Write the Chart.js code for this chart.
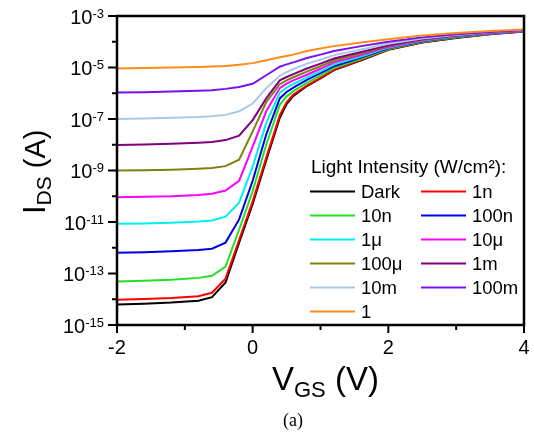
<!DOCTYPE html>
<html>
<head>
<meta charset="utf-8">
<script src="https://cdn.jsdelivr.net/npm/chart.js@4.4.0/dist/chart.umd.min.js"></script>
<style>
  html, body { margin: 0; padding: 0; background: #fff; }
  #wrap { width: 534px; height: 433px; }
</style>
</head>
<body>
<div id="wrap"><canvas id="chart" width="534" height="433"></canvas></div>
<script>
// gate voltage (V)
const vgs = [-2, -1.6, -1.2, -0.8, -0.6, -0.4, -0.2, 0, 0.2, 0.4, 0.5, 0.6, 0.8, 1.0, 1.2, 1.6, 2.0, 2.5, 3.0, 3.5, 4.0];

// log10 of I_DS (A)
const dark   = [-14.2, -14.17, -14.13, -14.06, -13.92, -13.35, -11.8, -10.3, -8.6, -6.95, -6.42, -6.1, -5.72, -5.42, -5.1, -4.72, -4.31, -4.03, -3.85, -3.71, -3.6];
const i1n    = [-14.02, -13.99, -13.95, -13.88, -13.75, -13.2, -11.7, -10.2, -8.5, -6.85, -6.35, -6.05, -5.7, -5.4, -5.08, -4.7, -4.3, -4.02, -3.84, -3.7, -3.6];
const i10n   = [-13.31, -13.28, -13.24, -13.17, -13.09, -12.73, -11.3, -9.8, -8.0, -6.45, -6.12, -5.92, -5.6, -5.32, -5.02, -4.66, -4.28, -4.0, -3.83, -3.69, -3.59];
const i100n  = [-12.19, -12.17, -12.14, -12.09, -12.04, -11.8, -10.9, -9.4, -7.6, -6.2, -5.95, -5.78, -5.48, -5.22, -4.95, -4.61, -4.25, -3.98, -3.81, -3.68, -3.59];
const i1u    = [-11.07, -11.06, -11.03, -10.98, -10.94, -10.79, -10.25, -8.85, -7.15, -5.98, -5.78, -5.64, -5.38, -5.15, -4.88, -4.57, -4.23, -3.96, -3.8, -3.67, -3.58];
const i10u   = [-10.04, -10.02, -10.0, -9.95, -9.9, -9.78, -9.4, -8.07, -6.7, -5.8, -5.63, -5.5, -5.28, -5.05, -4.8, -4.52, -4.2, -3.94, -3.78, -3.66, -3.58];
const i100u  = [-9.0, -8.99, -8.97, -8.93, -8.9, -8.83, -8.58, -7.48, -6.35, -5.65, -5.5, -5.38, -5.16, -4.95, -4.73, -4.46, -4.17, -3.92, -3.77, -3.65, -3.57];
const i1m    = [-8.01, -7.99, -7.96, -7.92, -7.89, -7.82, -7.65, -7.04, -6.2, -5.5, -5.37, -5.26, -5.04, -4.85, -4.65, -4.4, -4.14, -3.9, -3.76, -3.64, -3.57];
const i10m   = [-7.0, -6.98, -6.95, -6.92, -6.89, -6.84, -6.7, -6.4, -5.8, -5.32, -5.18, -5.06, -4.85, -4.7, -4.52, -4.3, -4.08, -3.87, -3.74, -3.63, -3.56];
const i100m  = [-5.97, -5.96, -5.93, -5.9, -5.88, -5.83, -5.76, -5.63, -5.3, -4.97, -4.88, -4.8, -4.63, -4.5, -4.36, -4.17, -4.0, -3.83, -3.71, -3.62, -3.55];
const i1     = [-5.04, -5.02, -5.0, -4.98, -4.96, -4.94, -4.89, -4.83, -4.72, -4.6, -4.55, -4.5, -4.36, -4.26, -4.17, -4.03, -3.9, -3.76, -3.66, -3.58, -3.52];

const seriesNames  = ['Dark', '1n', '10n', '100n', '1\u03bc', '10\u03bc', '100\u03bc', '1m', '10m', '100m', '1'];
const seriesData   = [dark, i1n, i10n, i100n, i1u, i10u, i100u, i1m, i10m, i100m, i1];
const seriesColors = ['#000000', '#ff0000', '#22e022', '#0000e0', '#00f0f0', '#ff00ff', '#808010', '#800080', '#a8c8e6', '#7a10f0', '#ff8c1a'];

// axis ticks
const xTicks = [-2, -1, 0, 1, 2, 3, 4];
const xLabels = [-2, 0, 2, 4];
const yExps = [-15, -14, -13, -12, -11, -10, -9, -8, -7, -6, -5, -4, -3];
const yLabelExps = [-3, -5, -7, -9, -11, -13, -15];

const FONT = '"Liberation Sans", Arial, Helvetica, sans-serif';

const datasets = seriesData.map(function (vals, i) {
    return {
        label: seriesNames[i],
        data: vals.map(function (v, k) { return { x: vgs[k], y: Math.pow(10, v) }; }),
        borderColor: seriesColors[i],
        borderWidth: 2,
        pointRadius: 0,
        showLine: true,
        tension: 0,
        order: -i
    };
});

// draws the frame, ticks, labels and the legend box
const decorations = {
    id: 'decorations',
    afterDraw: function (chart) {
        const ctx = chart.ctx;
        const a = chart.chartArea;
        const xs = chart.scales.x;
        const ys = chart.scales.y;
        ctx.save();
        ctx.strokeStyle = '#000';
        ctx.fillStyle = '#000';
        ctx.lineWidth = 2.5;
        ctx.strokeRect(a.left, a.top, a.right - a.left, a.bottom - a.top);

        // y ticks
        ctx.lineWidth = 2;
        yExps.forEach(function (e) {
            const py = ys.getPixelForValue(Math.pow(10, e));
            const len = (e % 2 !== 0) ? 9 : 5;
            ctx.beginPath();
            ctx.moveTo(a.left - len, py);
            ctx.lineTo(a.left, py);
            ctx.stroke();
        });
        // x ticks
        xTicks.forEach(function (v) {
            const px = xs.getPixelForValue(v);
            const len = (v % 2 === 0) ? 8 : 5;
            ctx.beginPath();
            ctx.moveTo(px, a.bottom);
            ctx.lineTo(px, a.bottom + len);
            ctx.stroke();
        });

        // y labels 10^n
        ctx.textBaseline = 'alphabetic';
        yLabelExps.forEach(function (e) {
            const py = ys.getPixelForValue(Math.pow(10, e));
            ctx.font = '13px ' + FONT;
            const sup = String(e);
            const supW = ctx.measureText(sup).width;
            ctx.textAlign = 'right';
            ctx.fillText(sup, a.left - 13, py + 1.5);
            ctx.font = '20px ' + FONT;
            ctx.fillText('10', a.left - 13 - supW, py + 7.5);
        });

        // x labels
        ctx.font = '20px ' + FONT;
        ctx.textAlign = 'center';
        xLabels.forEach(function (v) {
            ctx.fillText(String(v), xs.getPixelForValue(v), 354);
        });

        // x title: V_GS (V)
        ctx.textAlign = 'left';
        let x = 272;
        ctx.font = '33px ' + FONT;
        ctx.fillText('V', x, 390);
        x += ctx.measureText('V').width;
        ctx.font = '22px ' + FONT;
        ctx.fillText('GS', x, 397);
        x += ctx.measureText('GS').width;
        ctx.font = '33px ' + FONT;
        ctx.fillText(' (V)', x, 390);

        // y title: I_DS (A), rotated
        ctx.save();
        ctx.translate(45, 214);
        ctx.rotate(-Math.PI / 2);
        let t = 0;
        ctx.font = '31px ' + FONT;
        ctx.fillText('I', t, 0);
        t += ctx.measureText('I').width;
        ctx.font = '21px ' + FONT;
        ctx.fillText('DS', t, 6);
        t += ctx.measureText('DS').width;
        ctx.font = '29px ' + FONT;
        ctx.fillText(' (A)', t, 0);
        ctx.restore();

        // caption
        ctx.font = '18px "Liberation Serif", "Times New Roman", serif';
        ctx.textAlign = 'center';
        ctx.fillText('(a)', 293, 426);

        // legend
        ctx.font = '19px ' + FONT;
        ctx.textAlign = 'left';
        ctx.textBaseline = 'middle';
        ctx.fillText('Light Intensity (W/cm\u00b2):', 311, 168);
        ctx.font = '18.5px ' + FONT;
        seriesNames.forEach(function (name, i) {
            const row = Math.floor(i / 2);
            const col = i % 2;
            const ly = 191.5 + row * 24;
            const lx = col === 0 ? 310 : 421;
            ctx.strokeStyle = seriesColors[i];
            ctx.lineWidth = 2;
            ctx.beginPath();
            ctx.moveTo(lx, ly);
            ctx.lineTo(lx + 45, ly);
            ctx.stroke();
            ctx.fillStyle = '#000';
            ctx.fillText(name, lx + 51, ly + 1);
        });
        ctx.restore();
    }
};

new Chart(document.getElementById('chart'), {
    type: 'scatter',
    data: { datasets: datasets },
    options: {
        responsive: false,
        animation: false,
        devicePixelRatio: 1,
        layout: { padding: { left: 117, right: 10, top: 16, bottom: 108 } },
        plugins: { legend: { display: false }, tooltip: { enabled: false } },
        scales: {
            x: { type: 'linear', min: -2, max: 4, display: false },
            y: { type: 'logarithmic', min: 1e-15, max: 1e-3, display: false }
        }
    },
    plugins: [decorations]
});
</script>
</body>
</html>
